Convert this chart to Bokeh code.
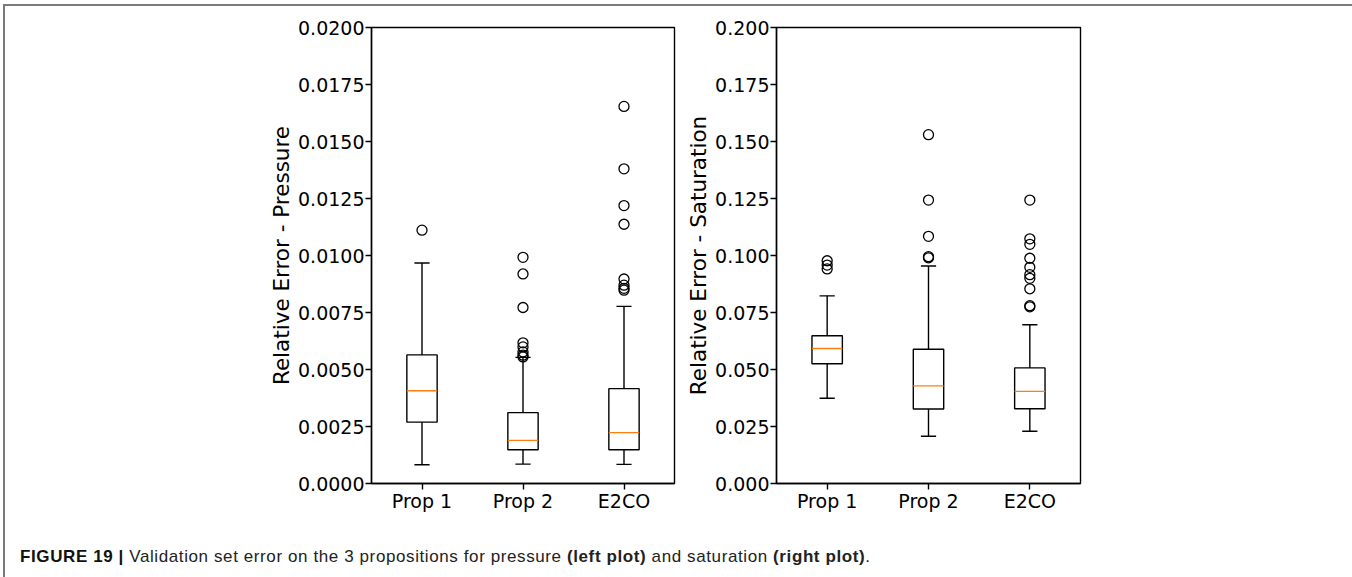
from bokeh.plotting import figure
from bokeh.models import Range1d, FixedTicker, NumeralTickFormatter, Div
from bokeh.layouts import row, column
from bokeh.embed import file_html
from bokeh.resources import INLINE

categories = ["Prop 1", "Prop 2", "E2CO"]

# Pressure: box statistics
pressure_q1 = [0.00269, 0.00148, 0.00148]
pressure_median = [0.00407, 0.00189, 0.00223]
pressure_q3 = [0.00564, 0.00311, 0.00416]
pressure_lo = [0.00082, 0.00085, 0.00084]
pressure_hi = [0.00967, 0.00553, 0.00777]
pressure_outliers = [
    [0.01111],
    [0.00992, 0.00919, 0.00772, 0.00617, 0.00599, 0.00577, 0.00563, 0.00555],
    [0.01654, 0.01380, 0.01219, 0.01137, 0.00897, 0.00870, 0.00856, 0.00848],
]

# Saturation
saturation_q1 = [0.0525, 0.0327, 0.0328]
saturation_median = [0.0592, 0.0428, 0.0404]
saturation_q3 = [0.0648, 0.0589, 0.0507]
saturation_lo = [0.0374, 0.0207, 0.0229]
saturation_hi = [0.0823, 0.0954, 0.0696]
saturation_outliers = [
    [0.0977, 0.0958, 0.0941],
    [0.1530, 0.1243, 0.1084, 0.0995, 0.0990],
    [0.1243, 0.1073, 0.1049, 0.0988, 0.0948, 0.0916, 0.0900, 0.0854, 0.0780, 0.0775],
]

pressure_ticks = [0.0, 0.0025, 0.005, 0.0075, 0.01, 0.0125, 0.015, 0.0175, 0.02]
saturation_ticks = [0.0, 0.025, 0.05, 0.075, 0.1, 0.125, 0.15, 0.175, 0.2]

FONT = "DejaVu Sans"
BOX_W = 0.3
CAP_W = 0.15
LW = 1.4


def make_box(q1, med, q3, lo, hi, outl, ymax, ticks, fmt, label, width, bl, br):
    p = figure(width=width, height=517, x_range=Range1d(0.5, 3.5), y_range=Range1d(0, ymax),
               output_backend="svg", toolbar_location=None,
               min_border_left=bl, min_border_right=br, min_border_top=21, min_border_bottom=40)
    p.xgrid.visible = False
    p.ygrid.visible = False
    p.outline_line_color = "black"
    p.outline_line_width = LW
    p.outline_line_alpha = 1.0
    xs = [i + 1 for i in range(len(categories))]
    # whiskers
    p.segment(x0=xs, y0=q3, x1=xs, y1=hi, line_color="black", line_width=LW)
    p.segment(x0=xs, y0=q1, x1=xs, y1=lo, line_color="black", line_width=LW)
    # caps
    p.segment(x0=[x - CAP_W / 2 for x in xs], y0=hi, x1=[x + CAP_W / 2 for x in xs], y1=hi,
              line_color="black", line_width=LW)
    p.segment(x0=[x - CAP_W / 2 for x in xs], y0=lo, x1=[x + CAP_W / 2 for x in xs], y1=lo,
              line_color="black", line_width=LW)
    # boxes
    p.quad(left=[x - BOX_W / 2 for x in xs], right=[x + BOX_W / 2 for x in xs], bottom=q1, top=q3,
           fill_color=None, line_color="black", line_width=LW)
    # medians
    p.segment(x0=[x - BOX_W / 2 for x in xs], y0=med, x1=[x + BOX_W / 2 for x in xs], y1=med,
              line_color="#ff7f0e", line_width=LW)
    # outliers
    ox, oy = [], []
    for x, vals in zip(xs, outl):
        for v in vals:
            ox.append(x)
            oy.append(v)
    p.scatter(ox, oy, marker="circle", size=10, fill_color=None, line_color="black", line_width=1.3)

    p.xaxis.ticker = FixedTicker(ticks=xs)
    p.xaxis.major_label_overrides = {x: c for x, c in zip(xs, categories)}
    p.yaxis.ticker = FixedTicker(ticks=ticks)
    p.yaxis.formatter = NumeralTickFormatter(format=fmt)
    p.yaxis.axis_label = label
    for ax in (p.xaxis, p.yaxis):
        ax.major_label_text_font = FONT
        ax.major_label_text_font_size = "19px"
        ax.major_label_text_color = "black"
        ax.axis_label_text_font = FONT
        ax.axis_label_text_font_size = "21.5px"
        ax.axis_label_text_font_style = "normal"
        ax.axis_label_text_color = "black"
        ax.minor_tick_line_color = None
        ax.major_tick_in = 0
        ax.major_tick_out = 6
        ax.major_tick_line_width = LW
        ax.major_tick_line_color = "black"
        ax.axis_line_color = "black"
        ax.axis_line_width = LW
    p.yaxis.major_label_standoff = 1
    p.xaxis.major_label_standoff = 0
    p.yaxis.axis_label_standoff = 1
    return p


p1 = make_box(pressure_q1, pressure_median, pressure_q3, pressure_lo, pressure_hi, pressure_outliers,
              0.02, pressure_ticks, "0.0000", "Relative Error - Pressure", 675, 366, 6)
p2 = make_box(saturation_q1, saturation_median, saturation_q3, saturation_lo, saturation_hi,
              saturation_outliers, 0.2, saturation_ticks, "0.000", "Relative Error - Saturation",
              667, 96, 267)

caption = Div(
    text='<span style="font-weight:bold;color:#111">FIGURE 19 |</span> Validation set error on the 3 '
         'propositions for pressure <b>(left plot)</b> and saturation <b>(right plot)</b>.',
    width=1342, height=46,
    styles={"font-family": "'Liberation Sans Narrow', 'Liberation Sans', sans-serif",
            "font-size": "17px", "letter-spacing": "0.6px", "color": "#222",
            "padding-top": "17px", "padding-left": "10px", "box-sizing": "border-box"},
)

layout = column(row(p1, p2), caption,
                styles={"border-top": "2px solid #7a7a7a", "border-left": "2px solid #7a7a7a",
                        "border-right": "2px solid #7a7a7a", "margin-left": "3px",
                        "margin-top": "4px"})

open("out.html", "w").write(file_html(layout, INLINE))
